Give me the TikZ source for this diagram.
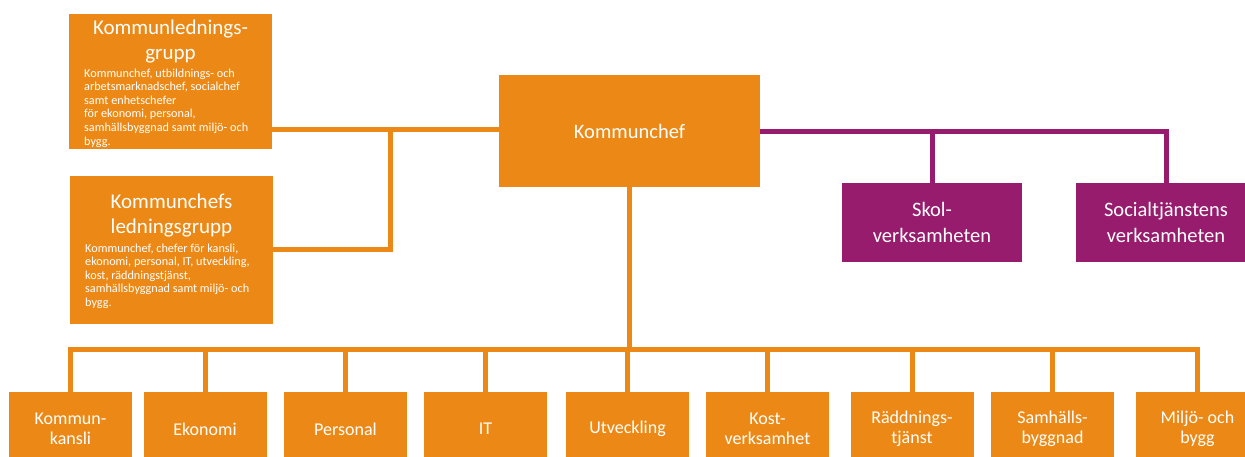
\documentclass[tikz,border=0pt]{standalone}
\usepackage{fontspec}
\setmainfont{Carlito}
\definecolor{org}{RGB}{236,137,22}
\definecolor{pur}{RGB}{152,28,110}
\begin{document}
\begin{tikzpicture}[x=1pt,y=-1pt,
  obox/.style={fill=org, draw=none, inner sep=0pt, text=white, align=center},
  bottombox/.style={obox, minimum width=123pt, minimum height=74pt, font=\fontsize{18}{20}\selectfont},
  pbox/.style={fill=pur, draw=none, inner sep=0pt, text=white, align=center, minimum width=180pt, minimum height=79pt, font=\fontsize{20.5}{26}\selectfont},
  titletext/.style={text=white, inner sep=0pt, align=center, anchor=north, font=\fontsize{21}{24.5}\selectfont},
  bodytext/.style={text=white, inner sep=0pt, align=left, anchor=north west, font=\fontsize{12.2}{13.6}\selectfont},
  olink/.style={draw=org, line width=5pt},
  plink/.style={draw=pur, line width=5pt}]
\useasboundingbox (0,0) rectangle (1245,457);
\fill[white] (0,0) rectangle (1245,457);
\begin{scope}
\clip (0,0) rectangle (1245,457);
% left group boxes
\node[obox, minimum width=203pt, minimum height=135pt] (g1) at (170.5,81.5) {};
\node[titletext] (g1t) at (170.5,20) {Kommunlednings-\\grupp};
\node[bodytext] (g1b) at (84,68.5) {Kommunchef, utbildnings- och\\arbetsmarknadschef, socialchef\\samt enhetschefer\\för ekonomi, personal,\\samhällsbyggnad samt miljö- och\\bygg.};
\node[obox, minimum width=203pt, minimum height=148pt] (g2) at (171.5,250) {};
\node[titletext] (g2t) at (171.5,194) {Kommunchefs\\ledningsgrupp};
\node[bodytext] (g2b) at (85,243.5) {Kommunchef, chefer för kansli,\\ekonomi, personal, IT, utveckling,\\kost, räddningstjänst,\\samhällsbyggnad samt miljö- och\\bygg.};
% Kommunchef
\node[obox, minimum width=261pt, minimum height=112pt, font=\fontsize{20.5}{24}\selectfont] (kc) at (629.5,131) {Kommunchef};
% purple boxes
\node[pbox] (s1) at (932,222.5) {Skol-\\verksamheten};
\node[pbox] (s2) at (1166,222.5) {Socialtjänstens\\verksamheten};
% bottom boxes
\node[bottombox] (b1) at (70.5,429) {Kommun-\\kansli};
\node[bottombox] (b2) at (205,429) {Ekonomi};
\node[bottombox] (b3) at (345.5,429) {Personal};
\node[bottombox] (b4) at (485.5,429) {IT};
\node[bottombox] (b5) at (627.5,429) {Utveckling};
\node[bottombox] (b6) at (767.5,429) {Kost-\\verksamhet};
\node[bottombox] (b7) at (912,429) {Räddnings-\\tjänst};
\node[bottombox] (b8) at (1052.5,429) {Samhälls-\\byggnad};
\node[bottombox] (b9) at (1197.5,429) {Miljö- och\\bygg};
% connectors left
\coordinate (j) at (390,130);
\draw[olink] (g1.east |- j) -- (j) -- (kc.west |- j);
\draw[olink] (g2.east) -| (j);
% purple connectors
\coordinate (pbar) at (0,132);
\draw[plink] (kc.east |- pbar) -- (s2.north |- pbar) -- (s2.north);
\draw[plink] (s1.north) -- (s1.north |- pbar);
% bottom connectors
\coordinate (bar) at (0,349);
\draw[olink] (kc.south) -- (kc.south |- bar);
\draw[olink] (b1.north) -- (b1.north |- bar) -- (b9.north |- bar) -- (b9.north);
\foreach \i in {2,...,8} {\draw[olink] (b\i.north) -- (b\i.north |- bar);}
\end{scope}
\end{tikzpicture}
\end{document}
